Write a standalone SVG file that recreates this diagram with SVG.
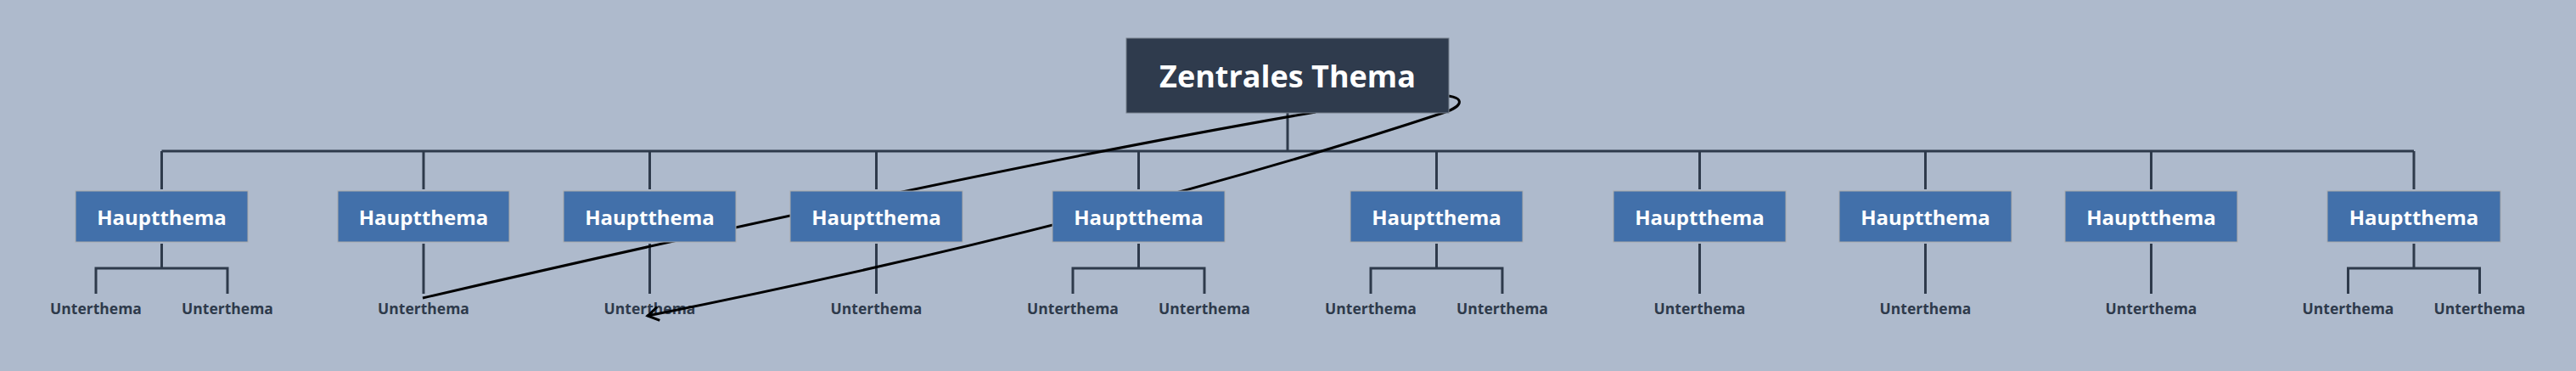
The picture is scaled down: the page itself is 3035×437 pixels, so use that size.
<svg xmlns="http://www.w3.org/2000/svg" width="3035" height="437" viewBox="0 0 3035 437">
<style>
.bg{fill:#aebacc}
.tree{stroke:#2e3a4b;stroke-width:3;fill:none}
.rel{stroke:#000;stroke-width:3;fill:none}
.main rect{fill:#4270aa;stroke:#a9a9a9;stroke-width:1}
.main text{fill:#fff;font-family:"Open Sans","Noto Sans",sans-serif;font-weight:bold;font-size:24px;text-anchor:middle}
.root rect{fill:#2f3b4d;stroke:#77808c;stroke-width:1}
.root text{fill:#fff;font-family:"Open Sans","Noto Sans",sans-serif;font-weight:bold;font-size:36px;text-anchor:middle}
.sub text{fill:#2e3a4b;font-family:"Open Sans","Noto Sans",sans-serif;font-weight:bold;font-size:17.5px;text-anchor:middle}
</style>
<defs>
<marker id="arr" markerUnits="userSpaceOnUse" markerWidth="30" markerHeight="30" refX="15" refY="15" orient="auto" viewBox="0 0 30 30">
<path d="M2 7 L15 15 L2 23" fill="none" stroke="#000" stroke-width="3"/>
</marker>
</defs>
<rect class="bg" x="0" y="0" width="3035" height="437"/>
<g id="connectors">
<path class="tree" d="M1517 133 V178 M190.5 178 H2844"/>
<path class="tree" d="M190.5 178 V223 M499 178 V223 M765.5 178 V223 M1032.5 178 V223 M1341.5 178 V223 M1692.5 178 V223 M2002.5 178 V223 M2268.5 178 V223 M2534.5 178 V223 M2844 178 V223"/>
<path class="tree" d="M190.5 287 V316 M113 346 V316 H268 V346"/>
<path class="tree" d="M499 287 V346"/>
<path class="tree" d="M765.5 287 V346"/>
<path class="tree" d="M1032.5 287 V346"/>
<path class="tree" d="M1341.5 287 V316 M1264 346 V316 H1419 V346"/>
<path class="tree" d="M1692.5 287 V316 M1615 346 V316 H1770 V346"/>
<path class="tree" d="M2002.5 287 V346"/>
<path class="tree" d="M2268.5 287 V346"/>
<path class="tree" d="M2534.5 287 V346"/>
<path class="tree" d="M2844 287 V316 M2766.5 346 V316 H2921.5 V346"/>
</g>
<g id="sub1a" class="sub"><text x="113" y="369.5">Unterthema</text></g>
<g id="sub1b" class="sub"><text x="268" y="369.5">Unterthema</text></g>
<g id="sub2" class="sub"><text x="499" y="369.5">Unterthema</text></g>
<g id="sub3" class="sub"><text x="765.5" y="369.5">Unterthema</text></g>
<g id="sub4" class="sub"><text x="1032.5" y="369.5">Unterthema</text></g>
<g id="sub5a" class="sub"><text x="1264" y="369.5">Unterthema</text></g>
<g id="sub5b" class="sub"><text x="1419" y="369.5">Unterthema</text></g>
<g id="sub6a" class="sub"><text x="1615" y="369.5">Unterthema</text></g>
<g id="sub6b" class="sub"><text x="1770" y="369.5">Unterthema</text></g>
<g id="sub7" class="sub"><text x="2002.5" y="369.5">Unterthema</text></g>
<g id="sub8" class="sub"><text x="2268.5" y="369.5">Unterthema</text></g>
<g id="sub9" class="sub"><text x="2534.5" y="369.5">Unterthema</text></g>
<g id="sub10a" class="sub"><text x="2766.5" y="369.5">Unterthema</text></g>
<g id="sub10b" class="sub"><text x="2921.5" y="369.5">Unterthema</text></g>
<g id="relations">
<path class="rel" d="M1550 132 Q1147 201 498 351"/>
<path class="rel" d="M1690 112 C1730 112 1725 125 1700 133 C1400 232 1063 312 763 372" marker-end="url(#arr)"/>
</g>
<g id="root" class="root"><rect x="1327" y="45" width="380" height="88"/><text x="1517" y="102.5">Zentrales Thema</text></g>
<g id="main1" class="main"><rect x="89" y="225" width="203" height="60"/><text x="190.5" y="264.5">Hauptthema</text></g>
<g id="main2" class="main"><rect x="398" y="225" width="202" height="60"/><text x="499" y="264.5">Hauptthema</text></g>
<g id="main3" class="main"><rect x="664" y="225" width="203" height="60"/><text x="765.5" y="264.5">Hauptthema</text></g>
<g id="main4" class="main"><rect x="931" y="225" width="203" height="60"/><text x="1032.5" y="264.5">Hauptthema</text></g>
<g id="main5" class="main"><rect x="1240" y="225" width="203" height="60"/><text x="1341.5" y="264.5">Hauptthema</text></g>
<g id="main6" class="main"><rect x="1591" y="225" width="203" height="60"/><text x="1692.5" y="264.5">Hauptthema</text></g>
<g id="main7" class="main"><rect x="1901" y="225" width="203" height="60"/><text x="2002.5" y="264.5">Hauptthema</text></g>
<g id="main8" class="main"><rect x="2167" y="225" width="203" height="60"/><text x="2268.5" y="264.5">Hauptthema</text></g>
<g id="main9" class="main"><rect x="2433" y="225" width="203" height="60"/><text x="2534.5" y="264.5">Hauptthema</text></g>
<g id="main10" class="main"><rect x="2742" y="225" width="204" height="60"/><text x="2844" y="264.5">Hauptthema</text></g>
</svg>
